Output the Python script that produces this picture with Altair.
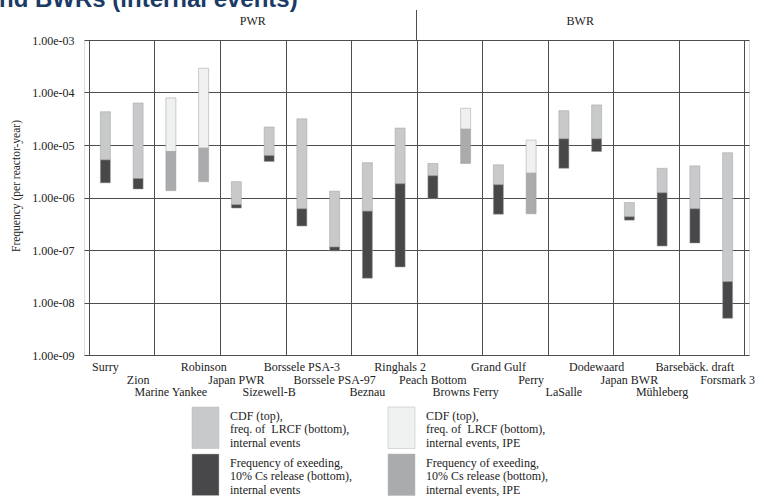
import altair as alt
import pandas as pd

# ---------------- data ----------------
names = ["Surry", "Zion", "Marine Yankee", "Robinson", "Japan PWR", "Sizewell-B",
         "Borssele PSA-3", "Borssele PSA-97", "Beznau", "Ringhals 2",
         "Peach Bottom", "Browns Ferry", "Grand Gulf", "Perry", "LaSalle",
         "Dodewaard", "Japan BWR", "Mühleberg", "Barsebäck. draft", "Forsmark 3"]
cdf = [4.3e-5, 6.3e-5, 7.9e-5, 2.9e-4, 2.0e-6, 2.2e-5, 3.15e-5, 1.32e-6, 4.6e-6, 2.1e-5,
       4.45e-6, 5.0e-5, 4.2e-6, 1.24e-5, 4.5e-5, 5.8e-5, 8.0e-7, 3.6e-6, 4.0e-6, 7.1e-6]
mid = [5.2e-6, 2.3e-6, 7.5e-6, 8.7e-6, 7.3e-7, 6.3e-6, 6.1e-7, 1.14e-7, 5.5e-7, 1.83e-6,
       2.6e-6, 2.0e-5, 1.75e-6, 2.9e-6, 1.31e-5, 1.31e-5, 4.3e-7, 1.23e-6, 6.1e-7, 2.5e-8]
low = [1.9e-6, 1.45e-6, 1.35e-6, 2.0e-6, 6.3e-7, 4.85e-6, 2.86e-7, 9.6e-8, 2.9e-8, 4.75e-8,
       9.5e-7, 4.45e-6, 4.8e-7, 4.9e-7, 3.6e-6, 7.5e-6, 3.7e-7, 1.19e-7, 1.36e-7, 5.0e-9]
ipe = [False, False, True, True, False, False, False, False, False, False,
       False, True, False, True, False, False, False, False, False, False]
label_row = [0, 1, 2, 0, 1, 2, 0, 1, 2, 0, 1, 2, 0, 1, 2, 0, 1, 2, 0, 1]
groups = ["PWR", "BWR"]
group_sizes = [10, 10]
decades = [1e-9, 1e-8, 1e-7, 1e-6, 1e-5, 1e-4, 1e-3]
title_text = "nd BWRs (internal events)"
y_title = "Frequency (per reactor-year)"
legend_keys = ["top", "bottom", "IPE top", "IPE bottom"]
legend_colors = ["#c8c9cb", "#48484a", "#eff0f0", "#a9abad"]
legend_texts = [
    ["CDF (top),", "freq. of\u00a0 LRCF (bottom),", "internal events"],
    ["Frequency of exeeding,", "10% Cs release (bottom),", "internal events"],
    ["CDF (top),", "freq. of\u00a0 LRCF (bottom),", "internal events, IPE"],
    ["Frequency of exeeding,", "10% Cs release (bottom),", "internal events, IPE"],
]

# ---------------- frames ----------------
df = pd.DataFrame({
    "plant": names,
    "pos": [i + 0.5 for i in range(len(names))],
    "cdf": cdf, "mid": mid, "low": low,
    "row": label_row,
    "top_key": ["IPE top" if f else "top" for f in ipe],
    "bot_key": ["IPE bottom" if f else "bottom" for f in ipe],
})
centers = []
acc = 0
for s in group_sizes:
    centers.append(acc + s / 2)
    acc += s
gdf = pd.DataFrame({"group": groups, "center": centers})

W, H = 665, 315
SERIF = "Liberation Serif"
LINE = "#4d4d4d"
TXT = "#222222"

xscale = alt.Scale(domain=[0, len(names)], nice=False, zero=False)
yscale = alt.Scale(type="log", domain=[1e-9, 1e-3], nice=False)
cscale = alt.Scale(domain=legend_keys, range=legend_colors)

xaxis = alt.Axis(values=list(range(len(names) + 1)), grid=True, labels=False, ticks=False,
                 domain=False, title=None, gridColor=LINE, gridOpacity=1, gridWidth=1)
yaxis = alt.Axis(values=decades, grid=True, ticks=False, tickSize=0, domain=False, title=None,
                 labelExpr="'1.00e-0' + (-round(log(datum.value) / LN10))",
                 labelFont=SERIF, labelFontSize=12, labelColor=TXT, labelPadding=10,
                 gridColor=LINE, gridOpacity=1, gridWidth=1)

base = alt.Chart(df)

top_bars = base.mark_bar(size=10, stroke="#9c9c9c", strokeWidth=0.5).encode(
    x=alt.X("pos:Q", scale=xscale, axis=xaxis),
    y=alt.Y("cdf:Q", scale=yscale, axis=yaxis),
    y2="mid:Q",
    color=alt.Color("top_key:N", scale=cscale, legend=None),
)
bot_bars = base.mark_bar(size=10, stroke="#9c9c9c", strokeWidth=0.5).encode(
    x=alt.X("pos:Q", scale=xscale),
    y=alt.Y("mid:Q", scale=yscale),
    y2="low:Q",
    color=alt.Color("bot_key:N", scale=cscale, legend=None),
)

row_y = [327, 339.5, 352]
label_layers = []
for r, yy in enumerate(row_y):
    label_layers.append(
        base.transform_filter(alt.datum.row == r).mark_text(
            font=SERIF, fontSize=12, color=TXT, baseline="middle", align="center"
        ).encode(x=alt.X("pos:Q", scale=xscale), y=alt.value(yy), text="plant:N")
    )

group_labels = alt.Chart(gdf).mark_text(
    font=SERIF, fontSize=12, color=TXT, baseline="middle"
).encode(x=alt.X("center:Q", scale=xscale), y=alt.value(-19), text="group:N")

one = alt.Data(values=[{}])
divider = alt.Chart(one).mark_rule(color=LINE, strokeWidth=1).encode(
    x=alt.datum(group_sizes[0]), y=alt.value(-30), y2=alt.value(0)
)

title = alt.Chart(one).mark_text(
    text=title_text, font="Liberation Sans", fontSize=24, fontWeight="bold",
    color="#1b3a66", align="left", baseline="alphabetic"
).encode(x=alt.value(-85), y=alt.value(-33))

ytitle = alt.Chart(one).mark_text(
    text=y_title, font=SERIF, fontSize=11.5, color=TXT, angle=270,
    align="center", baseline="middle"
).encode(x=alt.value(-67), y=alt.value(146))

legend_layers = []
sw_x = [108, 108, 304, 304]
sw_y = [367, 414, 367, 414]
for k in range(4):
    legend_layers.append(
        alt.Chart(one).mark_rect(color=legend_colors[k], stroke="#b8b8b8", strokeWidth=0.5).encode(
            x=alt.value(sw_x[k]), x2=alt.value(sw_x[k] + 27),
            y=alt.value(sw_y[k]), y2=alt.value(sw_y[k] + 41.5))
    )
    legend_layers.append(
        alt.Chart(one).mark_text(
            text=legend_texts[k], font=SERIF, fontSize=12, color=TXT,
            align="left", baseline="middle", lineHeight=13.7
        ).encode(x=alt.value(sw_x[k] + 38), y=alt.value(sw_y[k] + 8.5))
    )

chart = alt.layer(
    top_bars, bot_bars, *label_layers, group_labels, divider, title, ytitle, *legend_layers
).properties(
    width=W, height=H,
    autosize=alt.AutoSizeParams(type="none"),
    padding={"left": 84, "top": 40, "right": 15, "bottom": 145},
).configure_view(stroke=LINE, strokeWidth=1).configure(background="white")

chart.save("out.html", embed_options={"renderer": "svg", "actions": False})
